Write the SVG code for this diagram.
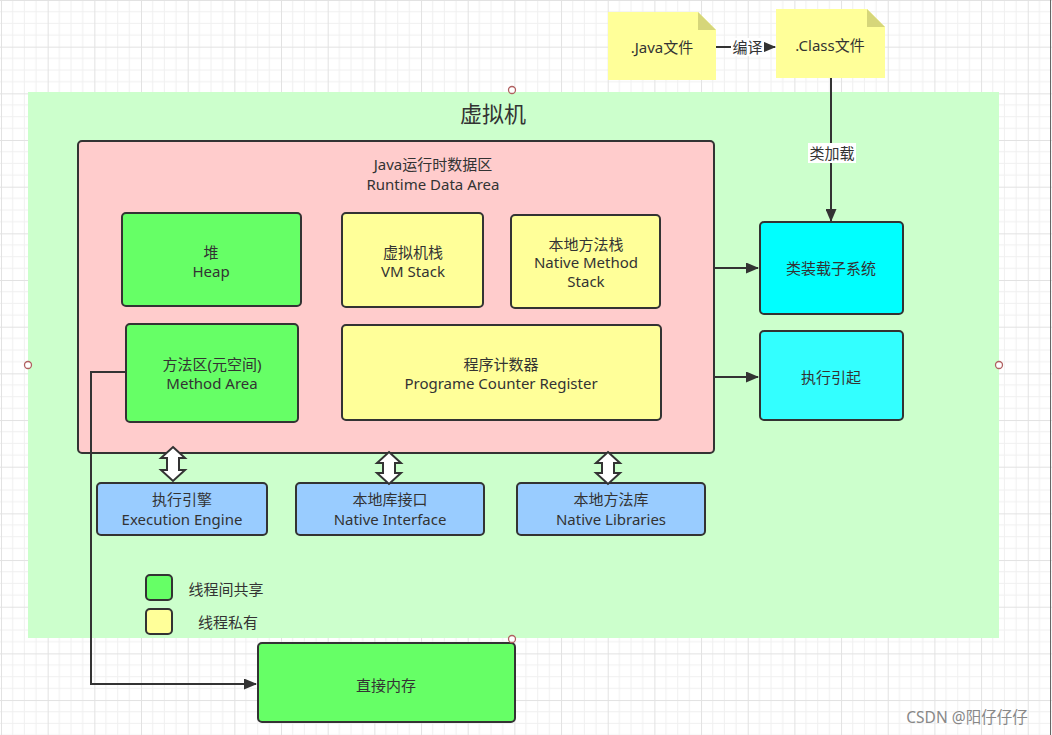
<svg xmlns="http://www.w3.org/2000/svg" width="1052" height="735" viewBox="0 0 1052 735">
<defs>
<pattern id="grid" patternUnits="userSpaceOnUse" x="1" y="0" width="46.67" height="46.67">
<path d="M0 11.67H46.67M0 23.33H46.67M0 35H46.67M11.67 0V46.67M23.33 0V46.67M35 0V46.67" stroke="#f0f0f0" stroke-width="1" fill="none"/>
<path d="M0 0.5H46.67M0.5 0V46.67" stroke="#e2e2e2" stroke-width="1" fill="none"/>
</pattern>
<marker id="arr" viewBox="0 0 13 11" refX="12" refY="5.5" markerWidth="13" markerHeight="11" markerUnits="userSpaceOnUse" orient="auto">
<path d="M0 0L13 5.5L0 11Z" fill="#333"/>
</marker>
<style>
text{font-family:"Noto Sans","Noto Sans CJK SC",sans-serif;fill:#333;font-size:15px;text-anchor:middle;dominant-baseline:central}
.box{stroke:#333;stroke-width:2}
.green{fill:#66ff66}
.yellow{fill:#ffff99}
.blue{fill:#99ccff}
.cyan{fill:#00ffff}
.cyan2{fill:#33ffff}
.conn{stroke:#333;stroke-width:2;fill:none}
.dbl{fill:#fff;stroke:#333;stroke-width:2;stroke-linejoin:miter}
.handle{fill:#fff;stroke:#b06060;stroke-width:1.3}
.note{fill:#ffff99}
.fold{fill:#d6d67a}
.lbl{fill:#fff}
</style>
</defs>
<rect width="1052" height="735" fill="#fff"/>
<rect width="1052" height="735" fill="url(#grid)"/>
<line x1="1050.5" y1="0" x2="1050.5" y2="735" stroke="#666" stroke-width="1"/>

<g id="vm">
<rect x="28" y="92" width="971" height="546" fill="#ccffcc"/>
<text x="493" y="113" style="font-size:22px">虚拟机</text>
</g>

<g id="runtime-data-area">
<rect class="box" x="78" y="141" width="636" height="312" rx="4" fill="#ffcccc"/>
<text x="433" y="164">Java运行时数据区</text>
<text x="433" y="184">Runtime Data Area</text>
</g>

<g id="heap">
<rect class="box green" x="122" y="213" width="179" height="93" rx="4"/>
<text x="211" y="252">堆</text>
<text x="211" y="271">Heap</text>
</g>

<g id="vm-stack">
<rect class="box yellow" x="342" y="213" width="141" height="94" rx="4"/>
<text x="413" y="252">虚拟机栈</text>
<text x="413" y="271">VM Stack</text>
</g>

<g id="native-method-stack">
<rect class="box yellow" x="511" y="215" width="149" height="93" rx="4"/>
<text x="586" y="244">本地方法栈</text>
<text x="586" y="262">Native Method</text>
<text x="586" y="281">Stack</text>
</g>

<g id="method-area">
<rect class="box green" x="126" y="324" width="172" height="98" rx="4"/>
<text x="212" y="364">方法区(元空间)</text>
<text x="212" y="383">Method Area</text>
</g>

<g id="pc-register">
<rect class="box yellow" x="342" y="325" width="319" height="95" rx="4"/>
<text x="501" y="364">程序计数器</text>
<text x="501" y="383">Programe Counter Register</text>
</g>

<g id="class-loader">
<rect class="box cyan" x="760" y="222" width="143" height="92" rx="4"/>
<text x="831" y="268">类装载子系统</text>
</g>

<g id="exec-start">
<rect class="box cyan2" x="760" y="331" width="143" height="89" rx="4"/>
<text x="831" y="377">执行引起</text>
</g>

<g id="java-file">
<path class="note" d="M608 12H698L716 30V80H608Z"/>
<path class="fold" d="M698 12V30H716Z"/>
<text x="662" y="47">.Java文件</text>
</g>

<g id="class-file">
<path class="note" d="M776 9H867L885 27V78H776Z"/>
<path class="fold" d="M867 9V27H885Z"/>
<text x="830" y="45">.Class文件</text>
</g>

<g id="execution-engine">
<rect class="box blue" x="97" y="483" width="170" height="52" rx="4"/>
<text x="182" y="499">执行引擎</text>
<text x="182" y="519">Execution Engine</text>
</g>

<g id="native-interface">
<rect class="box blue" x="296" y="483" width="188" height="52" rx="4"/>
<text x="390" y="499">本地库接口</text>
<text x="390" y="519">Native Interface</text>
</g>

<g id="native-libraries">
<rect class="box blue" x="517" y="483" width="188" height="52" rx="4"/>
<text x="611" y="499">本地方法库</text>
<text x="611" y="519">Native Libraries</text>
</g>

<g id="legend">
<rect class="box green" x="146" y="575" width="26" height="25" rx="4"/>
<text x="226" y="589">线程间共享</text>
<rect class="box yellow" x="146" y="609" width="26" height="25" rx="4"/>
<text x="228" y="622">线程私有</text>
</g>

<g id="direct-memory">
<rect class="box green" x="258" y="643" width="257" height="79" rx="4"/>
<text x="386" y="685">直接内存</text>
</g>

<g id="connectors">
<line class="conn" x1="716" y1="47" x2="775" y2="47" marker-end="url(#arr)"/>
<rect class="lbl" x="731" y="38" width="33" height="18"/>
<text x="747.5" y="47">编译</text>
<line class="conn" x1="831" y1="78" x2="831" y2="221" marker-end="url(#arr)"/>
<rect class="lbl" x="808" y="143" width="48" height="20"/>
<text x="832" y="153">类加载</text>
<line class="conn" x1="714" y1="268" x2="758" y2="268" marker-end="url(#arr)"/>
<line class="conn" x1="714" y1="377" x2="758" y2="377" marker-end="url(#arr)"/>
<path class="conn" d="M126 372H91V684H256" marker-end="url(#arr)"/>
<path class="dbl" d="M173 447L185 458H179V470H185L173 481L161 470H167V458H161Z"/>
<path class="dbl" d="M389 452L401 463H395V473H401L389 484L377 473H383V463H377Z"/>
<path class="dbl" d="M608 452L620 463H614V473H620L608 484L596 473H602V463H596Z"/>
</g>

<g id="handles">
<circle class="handle" cx="512" cy="90" r="3.5"/>
<circle class="handle" cx="28" cy="365" r="3.5"/>
<circle class="handle" cx="999" cy="365" r="3.5"/>
<circle class="handle" cx="512" cy="639" r="3.5"/>
</g>

<text x="967" y="717" style="font-size:15.5px;fill:#888">CSDN @阳仔仔仔</text>
</svg>
